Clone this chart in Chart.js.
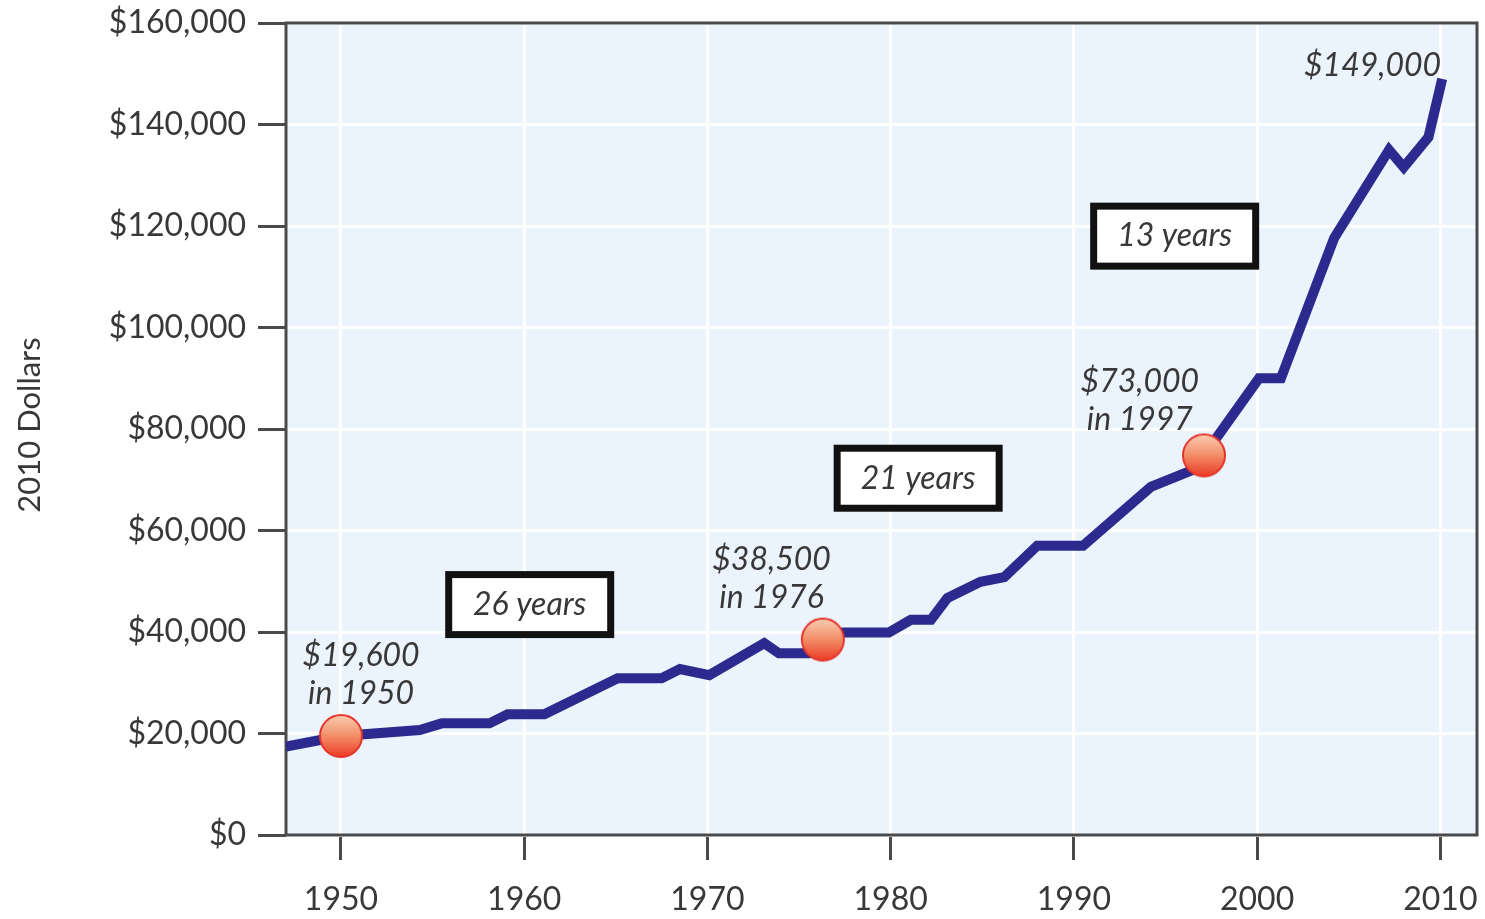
<!DOCTYPE html>
<html>
<head>
<meta charset="utf-8">
<script src="https://cdn.jsdelivr.net/npm/chart.js@4/dist/chart.umd.min.js"></script>
<style>
  html, body { margin: 0; padding: 0; background: #fff; overflow: hidden; }
  #wrap { width: 1485px; height: 919px; position: relative; }
  canvas { display: block; }
</style>
</head>
<body>
<div id="wrap"><canvas id="chart"></canvas></div>
<script>
// Income series (2010 dollars)
const years = [1947, 1950, 1954.3, 1955.5, 1958.1, 1959.1, 1961.1, 1965.1, 1967.5, 1968.5,
  1970.1, 1973.1, 1973.9, 1975.5, 1976.3, 1977.4, 1979.9, 1981.1, 1982.2, 1983.1,
  1984.9, 1986.2, 1988.0, 1990.5, 1994.2, 1996.4, 1997.1, 2000.1, 2001.3, 2004.2,
  2007.2, 2008.0, 2009.35, 2010.1];
const income = [17400, 19500, 20700, 22000, 22000, 23800, 23800, 30900, 30900, 32700,
  31500, 37800, 35800, 35800, 38500, 39900, 39900, 42400, 42400, 46700,
  49900, 50800, 57000, 57000, 68600, 71800, 74800, 90000, 90000, 117600,
  135000, 131600, 137500, 149000];

// Highlighted points
const markerYears = [1950, 1976.3, 1997.1];
const markerValues = [19500, 38500, 74800];

// Axis ticks
const xTickValues = [1950, 1960, 1970, 1980, 1990, 2000, 2010];
const yTickValues = [0, 20000, 40000, 60000, 80000, 100000, 120000, 140000, 160000];

// Callout texts
const calloutTexts = [['$19,600', 'in 1950'], ['$38,500', 'in 1976'], ['$73,000', 'in 1997'], ['$149,000']];
const boxTexts = ['26 years', '21 years', '13 years'];

const FONT = 'Lato, "Open Sans", sans-serif';
const TEXT = '#383838';
const AXIS = '#4a4a4a';

// Shaded ball used as point style for the markers
function makeBall(r) {
  const c = document.createElement('canvas');
  const s = r * 2 + 4;
  c.width = s; c.height = s;
  const g = c.getContext('2d');
  const grad = g.createLinearGradient(0, 2, 0, s - 2);
  grad.addColorStop(0, '#f9cdb0');
  grad.addColorStop(0.45, '#f39470');
  grad.addColorStop(1, '#ec3b24');
  g.beginPath();
  g.arc(s / 2, s / 2, r, 0, Math.PI * 2);
  g.fillStyle = grad;
  g.fill();
  g.lineWidth = 2;
  g.strokeStyle = '#e5332a';
  g.stroke();
  return c;
}
const ball = makeBall(21);

// Plot background and frame
const plotFrame = {
  id: 'plotFrame',
  beforeDraw(chart) {
    const { ctx, chartArea: a } = chart;
    ctx.save();
    ctx.fillStyle = '#ebf4fc';
    ctx.fillRect(a.left, a.top, a.right - a.left, a.bottom - a.top);
    ctx.restore();
  },
  beforeDatasetsDraw(chart) {
    const { ctx, chartArea: a } = chart;
    ctx.save();
    ctx.strokeStyle = AXIS;
    ctx.lineWidth = 3;
    ctx.strokeRect(a.left, a.top, a.right - a.left, a.bottom - a.top);
    ctx.restore();
  }
};

// Texts and boxed labels, positioned in data coordinates
const notes = {
  id: 'notes',
  afterDraw(chart, args, opts) {
    const { ctx, scales: { x, y } } = chart;
    ctx.save();
    ctx.fillStyle = TEXT;
    ctx.textAlign = 'center';
    ctx.textBaseline = 'middle';

    // y axis title
    ctx.save();
    ctx.translate(30, 425);
    ctx.rotate(-Math.PI / 2);
    ctx.font = '31px ' + FONT;
    ctx.fillText('2010 Dollars', 0, 0);
    ctx.restore();

    ctx.font = 'italic 32px ' + FONT;
    opts.callouts.forEach((c, i) => {
      const px = x.getPixelForValue(c.x);
      const py = y.getPixelForValue(c.y);
      calloutTexts[i].forEach((line, j) => ctx.fillText(line, px, py + j * 38));
    });

    opts.boxes.forEach((b, i) => {
      const px = x.getPixelForValue(b.x);
      const py = y.getPixelForValue(b.y);
      const w = 162, h = 60;
      ctx.fillStyle = '#fff';
      ctx.fillRect(px - w / 2, py - h / 2, w, h);
      ctx.strokeStyle = '#111';
      ctx.lineWidth = 7;
      ctx.strokeRect(px - w / 2, py - h / 2, w, h);
      ctx.fillStyle = TEXT;
      ctx.fillText(boxTexts[i], px, py);
    });
    ctx.restore();
  }
};

new Chart(document.getElementById('chart'), {
  type: 'line',
  data: {
    datasets: [
      {
        label: 'Markers',
        data: markerYears.map((yr, i) => ({ x: yr, y: markerValues[i] })),
        showLine: false,
        pointStyle: ball,
        pointRadius: 21,
        order: 0
      },
      {
        label: 'Income',
        data: years.map((yr, i) => ({ x: yr, y: income[i] })),
        borderColor: '#2c2a8e',
        borderWidth: 10,
        borderJoinStyle: 'miter',
        pointRadius: 0,
        tension: 0,
        fill: false,
        order: 1
      }
    ]
  },
  options: {
    responsive: true,
    maintainAspectRatio: false,
    animation: false,
    layout: { autoPadding: false, padding: { top: 23, right: 8, left: 0, bottom: 0 } },
    plugins: {
      legend: { display: false },
      tooltip: { enabled: false },
      notes: {
        callouts: [
          { x: 1951.1, y: 35400 },
          { x: 1973.5, y: 54300 },
          { x: 1993.6, y: 89400 },
          { x: 2006.3, y: 151600 }
        ],
        boxes: [
          { x: 1960.3, y: 45400 },
          { x: 1981.5, y: 70300 },
          { x: 1995.5, y: 118000 }
        ]
      }
    },
    scales: {
      x: {
        type: 'linear',
        min: 1947,
        max: 2012,
        afterBuildTicks: s => { s.ticks = xTickValues.map(v => ({ value: v })); },
        afterFit: s => { s.height = 84; s.paddingLeft = 0; s.paddingRight = 0; },
        border: { display: false },
        grid: { color: '#ffffff', lineWidth: 3, tickColor: AXIS, tickWidth: 3, tickLength: 25 },
        ticks: { color: TEXT, padding: 20, font: { family: FONT, size: 32 }, maxRotation: 0, callback: v => String(v) }
      },
      y: {
        min: 0,
        max: 160000,
        afterBuildTicks: s => { s.ticks = yTickValues.map(v => ({ value: v })); },
        afterFit: s => { s.width = 286; s.paddingTop = 0; s.paddingBottom = 0; },
        border: { display: false },
        grid: { color: '#ffffff', lineWidth: 3, tickColor: AXIS, tickWidth: 3, tickLength: 28 },
        ticks: { color: TEXT, padding: 12, font: { family: FONT, size: 32 }, callback: v => '$' + v.toLocaleString('en-US') }
      }
    }
  },
  plugins: [plotFrame, notes]
});
</script>
</body>
</html>
